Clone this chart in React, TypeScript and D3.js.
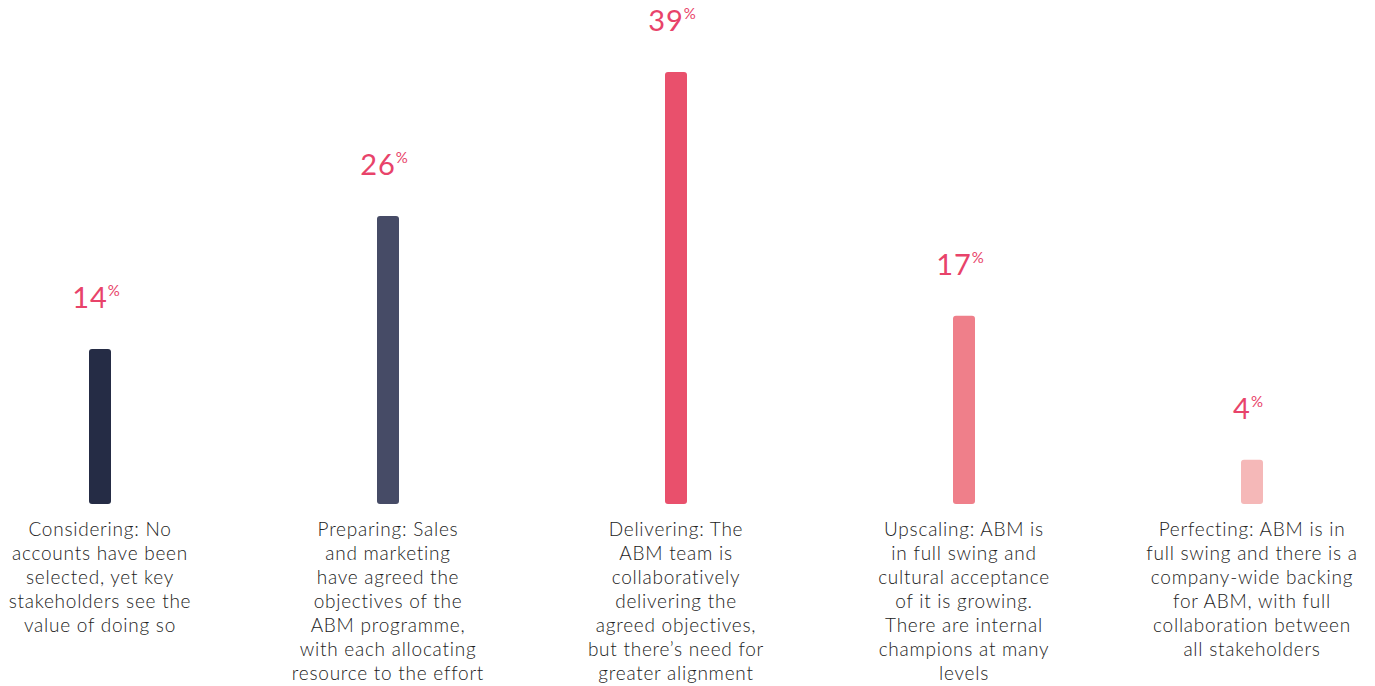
import React from "react";
import * as d3 from "d3";

const categories = ["Considering", "Preparing", "Delivering", "Upscaling", "Perfecting"];
const values = [14, 26, 39, 17, 4];
const barColors = ["#252c45", "#464b66", "#e9506c", "#ef7f8a", "#f5b8b8"];
const descriptions = [
  ["Considering: No", "accounts have been", "selected, yet key", "stakeholders see the", "value of doing so"],
  ["Preparing: Sales", "and marketing", "have agreed the", "objectives of the", "ABM programme,", "with each allocating", "resource to the effort"],
  ["Delivering: The", "ABM team is", "collaboratively", "delivering the", "agreed objectives,", "but there\u2019s need for", "greater alignment"],
  ["Upscaling: ABM is", "in full swing and", "cultural acceptance", "of it is growing.", "There are internal", "champions at many", "levels"],
  ["Perfecting: ABM is in", "full swing and there is a", "company-wide backing", "for ABM, with full", "collaboration between", "all stakeholders"],
];

const W = 1375;
const H = 686;

export default function App() {
  const x = d3.scalePoint<string>().domain(categories).range([100, 1252]);
  const y = d3.scaleLinear().domain([0, 39]).range([504, 72]);
  const barW = 22;
  const font = "Lato, 'Noto Sans', sans-serif";
  return (
    <svg width={W} height={H} style={{ position: "absolute", left: 0, top: 0, background: "#fff" }}>
      {categories.map((c, i) => {
        const cx = x(c) as number;
        const top = y(values[i]);
        return (
          <g key={c}>
            <rect x={cx - barW / 2} y={top} width={barW} height={y(0) - top} rx={3} fill={barColors[i]} />
            <text x={cx - 4} y={top - 41} textAnchor="middle" fontFamily={font} fontWeight={400} fontSize={29} fill="#e8436a" letterSpacing={1}>
              {values[i]}
              <tspan fontSize={15} dy={-12} letterSpacing={0}>%</tspan>
            </text>
            <text textAnchor="middle" fontFamily={font} fontWeight={300} fontSize={19} fill="#222" letterSpacing={0.75}>
              {descriptions[i].map((line, j) => (
                <tspan key={j} x={cx} y={536 + j * 24}>{line}</tspan>
              ))}
            </text>
          </g>
        );
      })}
    </svg>
  );
}
